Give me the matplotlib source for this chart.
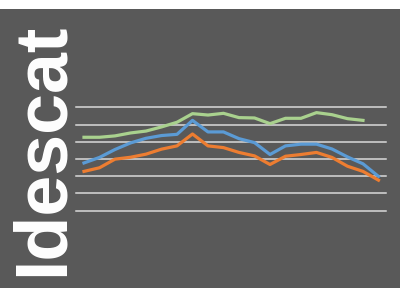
import matplotlib
matplotlib.use('Agg')
import matplotlib.pyplot as plt
from matplotlib.patches import Rectangle
import numpy as np

# dades llegides del grafic (unitats arbitraries, linies de quadricula cada 10)
punts = list(range(20))
verd = [42.6, 42.6, 43.4, 45.1, 46.2, 48.6, 51.3, 56.3, 55.5, 56.5,
        54.0, 53.8, 50.5, 53.6, 53.6, 56.9, 55.7, 53.4, 52.4, np.nan]
blau = [27.7, 30.9, 35.5, 39.3, 42.0, 43.6, 44.3, 52.4, 45.7, 45.7,
        41.8, 39.5, 32.6, 37.6, 38.6, 38.6, 35.8, 31.2, 27.2, 19.9]
taronja = [22.8, 24.9, 29.9, 31.0, 32.8, 35.7, 37.6, 44.5, 37.6, 36.6,
           33.8, 31.8, 26.8, 31.6, 32.6, 33.8, 30.9, 25.8, 22.8, 17.7]
nivells = [0, 10, 20, 30, 40, 50, 60]

fons = '#595959'

fig = plt.figure(figsize=(4, 3), dpi=100)
fig.patch.set_facecolor('white')

# franja grisa de fons
bg = fig.add_axes([0, 0, 1, 1], zorder=-1)
bg.add_patch(Rectangle((0, 0.04), 1, 0.93, facecolor=fons, edgecolor='none'))
bg.set_xlim(0, 1)
bg.set_ylim(0, 1)
bg.axis('off')

fig.text(0.156, 0.08, 'Idescat', rotation=90, rotation_mode='anchor',
         color='white', fontsize=53, fontweight='bold',
         family='Liberation Sans', ha='left', va='baseline')

ax = fig.add_axes([0.1906, 0.2977, 0.775, 0.3447])
ax.set_facecolor('none')
for y in nivells:
    ax.axhline(y, color='#D9D9D9', lw=1.1, zorder=1, clip_on=False)

ax.plot(punts, verd, color='#A9D18E', lw=2.3, zorder=3)
ax.plot(punts, blau, color='#5B9BD5', lw=2.3, zorder=3)
ax.plot(punts, taronja, color='#ED7D31', lw=2.3, zorder=3)

ax.set_xlim(-0.5, 19.5)
ax.set_ylim(0, 60)
ax.axis('off')

plt.savefig('out.png', dpi=100)
